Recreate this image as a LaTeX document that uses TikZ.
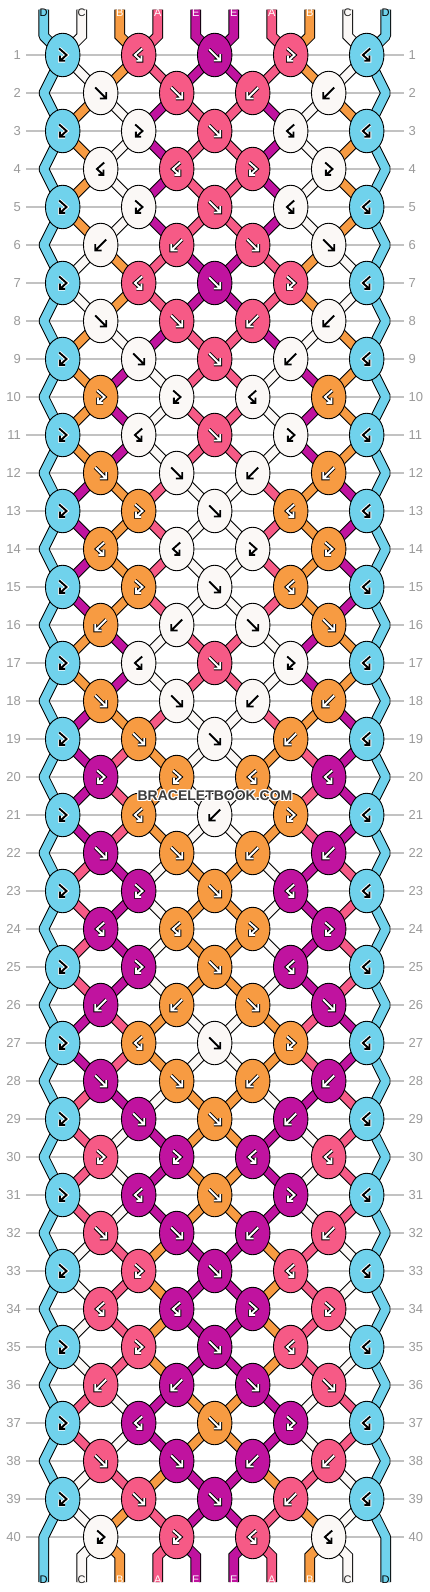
\documentclass[tikz,border=0pt]{standalone}
\usepackage{fontspec}
\setmainfont{Liberation Sans}
\usetikzlibrary{shapes.geometric}
\definecolor{colD}{HTML}{70D2EC}
\definecolor{colC}{HTML}{FBF8F6}
\definecolor{colB}{HTML}{F79B42}
\definecolor{colA}{HTML}{F65A86}
\definecolor{colE}{HTML}{C0139F}
\definecolor{gridgray}{HTML}{C2C2C2}
\definecolor{numgray}{HTML}{9A9A9A}
\definecolor{wmgray}{HTML}{3C3C3C}
\colorlet{haloD}{white}\colorlet{arrD}{black}
\colorlet{haloC}{white}\colorlet{arrC}{black}
\colorlet{haloB}{black}\colorlet{arrB}{white}
\colorlet{haloA}{black}\colorlet{arrA}{white}
\colorlet{haloE}{black}\colorlet{arrE}{white}
\colorlet{labD}{black}\colorlet{labC}{black!85}
\colorlet{labB}{white}\colorlet{labA}{white}\colorlet{labE}{white}
\pgfdeclarelayer{paper}
\pgfdeclarelayer{grid}
\pgfdeclarelayer{strands}
\pgfsetlayers{paper,grid,strands,main}
\newcommand\kicon[2]{%
  \draw[line width=3.8pt, draw=halo#2, line cap=butt, line join=miter] #1;
  \draw[line width=1.9pt, draw=arr#2, line cap=butt, line join=miter] #1;}
\newcommand\kicf[1]{\kicon{(-5.5,-5.5) -- (5.2,5.2) (-0.8,5.5) -- (5.5,5.5) -- (5.5,-0.8)}{#1}}
\newcommand\kicb[1]{\kicon{(5.5,-5.5) -- (-5.2,5.2) (0.8,5.5) -- (-5.5,5.5) -- (-5.5,-0.8)}{#1}}
\newcommand\kicfb[1]{\kicon{(-3.5,-6.5) -- (3.8,0) -- (-2.6,5.8) (2.4,5.8) -- (-2.8,5.8) -- (-2.8,0.6)}{#1}}
\newcommand\kicbf[1]{\kicon{(3.5,-6.5) -- (-3.8,0) -- (2.6,5.8) (-2.4,5.8) -- (2.8,5.8) -- (2.8,0.6)}{#1}}
\tikzset{
  strand/.code={\ifnum\passno=0 \tikzset{draw=black,line width=10pt}\else\tikzset{draw=col#1,line width=8pt}\fi},
  edgestrand/.code={\ifnum\passno=0 \tikzset{draw=black,line width=10.6pt}\else\tikzset{draw=col#1,line width=8.6pt}\fi},
  knot/.style={ellipse, draw=black, line width=0.9pt, minimum width=34.5pt, minimum height=43.5pt, inner sep=0pt},
  gridline/.style={draw=gridgray, line width=1.1pt},
  rownum/.style={text=numgray, font=\fontsize{13}{13}\selectfont, inner sep=0pt},
  strlab/.style={font=\fontsize{11}{11}\selectfont, inner sep=0pt},
}
\begin{document}
\begin{tikzpicture}[x=1pt,y=-1pt,line cap=round,line join=miter]
\begin{pgfonlayer}{paper}
\fill[white] (0,0) rectangle (430,1592);
\end{pgfonlayer}
\useasboundingbox (0,0) rectangle (430,1592);
% grid lines and row numbers
\begin{pgfonlayer}{grid}
\foreach \r in {1,...,40} {
  \pgfmathsetmacro\ky{55+38*(\r-1)}
  \draw[gridline] (26,\ky) -- (404,\ky);
}
\end{pgfonlayer}
\foreach \r in {1,...,40} {
  \pgfmathsetmacro\ky{55+38*(\r-1)}
  \node[rownum, anchor=east] (nl\r) at (21,\ky) {\r};
  \node[rownum, anchor=west] (nr\r) at (408.5,\ky) {\r};
}
% knots
\foreach \r/\ks in {
1/{fb/D,bf/A,f/E,fb/A,bf/D},
2/{f/C,f/A,b/A,b/C},
3/{fb/D,fb/C,f/A,bf/C,bf/D},
4/{bf/C,bf/A,fb/A,fb/C},
5/{fb/D,fb/C,f/A,bf/C,bf/D},
6/{b/C,b/A,f/A,f/C},
7/{fb/D,bf/A,f/E,fb/A,bf/D},
8/{f/C,f/A,b/A,b/C},
9/{fb/D,f/C,f/A,b/C,bf/D},
10/{fb/B,fb/C,bf/C,bf/B},
11/{fb/D,bf/C,f/A,fb/C,bf/D},
12/{f/B,f/C,b/C,b/B},
13/{fb/D,fb/B,f/C,bf/B,bf/D},
14/{bf/B,bf/C,fb/C,fb/B},
15/{fb/D,fb/B,f/C,bf/B,bf/D},
16/{b/B,b/C,f/C,f/B},
17/{fb/D,bf/C,f/A,fb/C,bf/D},
18/{f/B,f/C,b/C,b/B},
19/{fb/D,f/B,f/C,b/B,bf/D},
20/{fb/E,fb/B,bf/B,bf/E},
21/{fb/D,bf/B,b/C,fb/B,bf/D},
22/{f/E,f/B,b/B,b/E},
23/{fb/D,fb/E,f/B,bf/E,bf/D},
24/{bf/E,bf/B,fb/B,fb/E},
25/{fb/D,fb/E,f/B,bf/E,bf/D},
26/{b/E,b/B,f/B,f/E},
27/{fb/D,bf/B,f/C,fb/B,bf/D},
28/{f/E,f/B,b/B,b/E},
29/{fb/D,f/E,f/B,b/E,bf/D},
30/{fb/A,fb/E,bf/E,bf/A},
31/{fb/D,bf/E,f/B,fb/E,bf/D},
32/{f/A,f/E,b/E,b/A},
33/{fb/D,fb/A,f/E,bf/A,bf/D},
34/{bf/A,bf/E,fb/E,fb/A},
35/{fb/D,fb/A,f/E,bf/A,bf/D},
36/{b/A,b/E,f/E,f/A},
37/{fb/D,bf/E,f/B,fb/E,bf/D},
38/{f/A,f/E,b/E,b/A},
39/{fb/D,f/A,f/E,b/A,bf/D},
40/{fb/C,fb/A,bf/A,bf/C}} {
  \foreach \t/\c [count=\k] in \ks {
    \pgfmathsetmacro\kx{ifthenelse(isodd(\r),62.7,100.7)+76*(\k-1)}
    \pgfmathsetmacro\ky{55+38*(\r-1)}
    \node[knot, fill=col\c] (k\r-\k) at (\kx,\ky) {};
    \begin{scope}[shift={(\kx,\ky)}]
      \csname kic\t\endcsname{\c}
    \end{scope}
  }
}
% edge pass points and free ends
\foreach \r in {1,3,...,39} {
  \coordinate (vL\r) at (k\r-1.center);
  \coordinate (vR\r) at (k\r-5.center);
}
\foreach \r in {2,4,...,40} {
  \pgfmathsetmacro\ky{55+38*(\r-1)}
  \coordinate (vL\r) at (43.7,\ky);
  \coordinate (vR\r) at (385.7,\ky);
}
\foreach \p in {1,...,10} {
  \pgfmathsetmacro\sx{43.7+38*(\p-1)}
  \coordinate (t\p) at (\sx,9.7);
  \coordinate (tm\p) at (\sx,36);
  \coordinate (bm\p) at (\sx,1556);
  \coordinate (b\p) at (\sx,1582);
}
% strands
\begin{pgfonlayer}{strands}
\foreach \passno in {0,1} {
  \draw[edgestrand=D, line join=bevel] (t1) -- (tm1) \foreach \r in {1,...,40} { -- (vL\r) } -- (b1);
  \draw[edgestrand=D, line join=bevel] (t10) -- (tm10) \foreach \r in {1,...,40} { -- (vR\r) } -- (b10);
  \foreach \c [count=\p] in {D,C,B,A,E,E,A,B,C,D} {
    \ifnum\p>1 \ifnum\p<10
      \pgfmathtruncatemacro\ka{(\p+1)/2}
      \pgfmathtruncatemacro\kb{\p/2}
      \draw[edgestrand=\c] (t\p) -- (tm\p) -- (k1-\ka.center);
      \draw[edgestrand=\c] (k40-\kb.center) -- (bm\p) -- (b\p);
    \fi\fi
  }
  \foreach \r/\st in {
  1/{D,C,B,A,E,E,A,B,C,D},
  2/{D,B,C,E,A,A,E,C,B,D},
  3/{D,B,C,E,A,A,E,C,B,D},
  4/{D,B,C,E,A,A,E,C,B,D},
  5/{D,B,C,E,A,A,E,C,B,D},
  6/{D,C,B,A,E,E,A,B,C,D},
  7/{D,C,B,A,E,E,A,B,C,D},
  8/{D,B,C,E,A,A,E,C,B,D},
  9/{D,B,E,C,A,A,C,E,B,D},
  10/{D,B,E,C,A,A,C,E,B,D},
  11/{D,B,E,C,A,A,C,E,B,D},
  12/{D,E,B,A,C,C,A,B,E,D},
  13/{D,E,B,A,C,C,A,B,E,D},
  14/{D,E,B,A,C,C,A,B,E,D},
  15/{D,E,B,A,C,C,A,B,E,D},
  16/{D,B,E,C,A,A,C,E,B,D},
  17/{D,B,E,C,A,A,C,E,B,D},
  18/{D,E,B,A,C,C,A,B,E,D},
  19/{D,E,A,B,C,C,B,A,E,D},
  20/{D,E,A,B,C,C,B,A,E,D},
  21/{D,E,A,B,C,C,B,A,E,D},
  22/{D,A,E,C,B,B,C,E,A,D},
  23/{D,A,E,C,B,B,C,E,A,D},
  24/{D,A,E,C,B,B,C,E,A,D},
  25/{D,A,E,C,B,B,C,E,A,D},
  26/{D,E,A,B,C,C,B,A,E,D},
  27/{D,E,A,B,C,C,B,A,E,D},
  28/{D,A,E,C,B,B,C,E,A,D},
  29/{D,A,C,E,B,B,E,C,A,D},
  30/{D,A,C,E,B,B,E,C,A,D},
  31/{D,A,C,E,B,B,E,C,A,D},
  32/{D,C,A,B,E,E,B,A,C,D},
  33/{D,C,A,B,E,E,B,A,C,D},
  34/{D,C,A,B,E,E,B,A,C,D},
  35/{D,C,A,B,E,E,B,A,C,D},
  36/{D,A,C,E,B,B,E,C,A,D},
  37/{D,A,C,E,B,B,E,C,A,D},
  38/{D,C,A,B,E,E,B,A,C,D},
  39/{D,C,B,A,E,E,A,B,C,D}} {
    \foreach \c [count=\p] in \st {
      \ifnum\p>1 \ifnum\p<10
        \pgfmathtruncatemacro\ka{(\p+isodd(\r))/2}
        \pgfmathtruncatemacro\kb{(\p+isodd(\r+1))/2}
        \pgfmathtruncatemacro\rb{\r+1}
        \draw[strand=\c] (k\r-\ka.center) -- (k\rb-\kb.center);
      \fi\fi
    }
  }
}
\end{pgfonlayer}
% string labels
\foreach \c [count=\p] in {D,C,B,A,E,E,A,B,C,D} {
  \node[strlab, text=lab\c] (lt\p) at (t\p) [yshift=-3pt] {\c};
  \node[strlab, text=lab\c] (lb\p) at (b\p) [yshift=2pt] {\c};
}
% watermark
\foreach \dx/\dy [count=\i] in {-1/-1,-1/0,-1/1,0/-1,0/1,1/-1,1/0,1/1} {
  \node[text=white, font=\bfseries\fontsize{14}{14}\selectfont, inner sep=0pt] (wmh\i) at (215+\dx,796+\dy) {BRACELETBOOK.COM};
}
\node[text=wmgray, font=\bfseries\fontsize{14}{14}\selectfont, inner sep=0pt] (wm) at (215,796) {BRACELETBOOK.COM};
\end{tikzpicture}
\end{document}
